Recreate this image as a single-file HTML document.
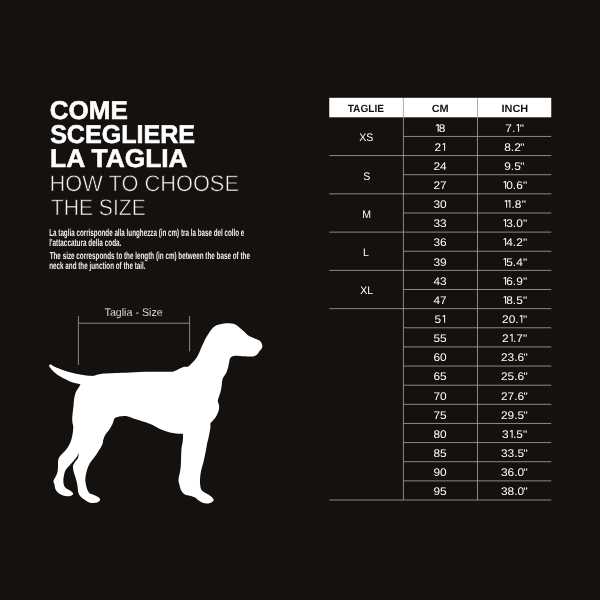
<!DOCTYPE html>
<html><head><meta charset="utf-8"><title>Come scegliere la taglia</title>
<style>
html,body{margin:0;padding:0;}
body{width:600px;height:600px;background:#14110f;overflow:hidden;position:relative;font-family:"Liberation Sans",sans-serif;color:#fff;text-rendering:geometricPrecision;}
.t{position:absolute;white-space:nowrap;line-height:1;transform-origin:0 0;}
.b{font-weight:bold;-webkit-text-stroke:2.4px #fff;}
.l{-webkit-text-stroke:2.5px #14110f;color:#f4f4f4;}
.p{color:#f2f2f2;font-weight:bold;}
.lb{color:#f0f0f0;-webkit-text-stroke:0.5px #14110f;}
.c{position:absolute;text-align:center;white-space:nowrap;line-height:1;}
.c span{display:inline-block;}
.hb{font-weight:bold;}
.c i{font-style:normal;margin-left:-0.6px;}
.c svg.o+i{margin-left:0.3px;}
.c svg.o{position:static;display:inline-block;width:3.0px;height:7.7px;margin:0 0.4px 0 0.5px;fill:#fff;vertical-align:baseline;}
svg{position:absolute;left:0;top:0;}
</style></head><body><div style="position:absolute;left:0;top:0;width:600px;height:600px;will-change:transform">
<div class="t b" style="left:49px;top:97px;font-size:102.40px;transform:translate(0.76px,0.33px) scale(0.2540,0.2500);">COME</div>
<div class="t b" style="left:50px;top:121px;font-size:102.40px;transform:translate(0.13px,0.33px) scale(0.2449,0.2500);">SCEGLIERE</div>
<div class="t b" style="left:50px;top:145px;font-size:102.40px;transform:translate(0.05px,0.33px) scale(0.2572,0.2500);">LA TAGLIA</div>
<div class="t l" style="left:49px;top:171px;font-size:90.80px;transform:translate(0.57px,0.78px) scale(0.2401,0.2500);">HOW TO CHOOSE</div>
<div class="t l" style="left:50px;top:195px;font-size:90.80px;transform:translate(0.76px,0.78px) scale(0.2326,0.2500);">THE SIZE</div>
<div class="t p" style="left:49px;top:227px;font-size:40.80px;transform:translate(0.23px,0.37px) scale(0.1537,0.2500);">La taglia corrisponde alla lunghezza (in cm) tra la base del collo e</div>
<div class="t p" style="left:49px;top:237px;font-size:40.80px;transform:translate(0.16px,0.37px) scale(0.1567,0.2500);">l'attaccatura della coda.</div>
<div class="t p" style="left:49px;top:250px;font-size:40.80px;transform:translate(0.66px,0.37px) scale(0.1547,0.2500);">The size corresponds to the length (in cm) between the base of the</div>
<div class="t p" style="left:49px;top:260px;font-size:40.80px;transform:translate(0.19px,0.37px) scale(0.1545,0.2500);">neck and the junction of the tail.</div>
<div class="t lb" style="left:104px;top:306px;font-size:44.00px;transform:translate(0.54px,0.69px) scale(0.2425,0.2500);">Taglia - Size</div>
<svg width="600" height="600" viewBox="0 0 600 600"><path d="M49.0 365.0C49.0 365.0 50.2 364.2 51.0 364.5C51.8 364.8 52.5 365.8 54.0 366.5C55.5 367.2 57.8 368.2 60.0 369.0C62.2 369.8 64.5 370.8 67.0 371.5C69.5 372.2 72.3 372.9 75.0 373.5C77.7 374.1 80.7 374.6 83.0 375.0C85.3 375.4 87.2 375.7 89.0 375.8C90.8 375.9 92.7 376.0 94.0 375.8C95.3 375.6 95.8 375.1 97.0 374.8C98.2 374.5 99.7 374.2 101.0 374.0C102.3 373.8 102.7 373.8 105.0 373.6C107.3 373.4 110.8 373.2 115.0 373.0C119.2 372.8 124.2 372.6 130.0 372.4C135.8 372.2 143.3 371.9 150.0 371.8C156.7 371.7 166.0 371.9 170.0 371.8C174.0 371.7 172.5 371.7 174.0 371.2C175.5 370.7 177.3 369.7 179.0 369.0C180.7 368.3 182.6 367.2 184.0 366.8C185.4 366.4 186.5 367.1 187.5 366.8C188.5 366.5 188.9 366.0 190.0 365.0C191.1 364.0 192.8 362.3 194.0 361.0C195.2 359.7 196.1 358.5 197.0 357.0C197.9 355.5 198.8 353.7 199.5 352.0C200.2 350.3 200.8 348.7 201.5 347.0C202.2 345.3 203.4 343.2 204.0 342.0C204.6 340.8 204.3 340.8 205.0 339.5C205.7 338.2 207.0 336.1 208.0 334.5C209.0 332.9 209.9 331.3 211.0 330.0C212.1 328.7 213.2 327.4 214.5 326.5C215.8 325.6 217.4 325.0 219.0 324.5C220.6 324.0 222.3 323.7 224.0 323.5C225.7 323.3 227.4 323.2 229.0 323.3C230.6 323.4 232.2 323.4 233.5 323.8C234.8 324.2 235.9 324.8 237.0 325.5C238.1 326.2 238.9 327.1 240.0 328.0C241.1 328.9 242.4 330.0 243.5 331.0C244.6 332.0 245.6 333.2 246.5 334.0C247.4 334.8 248.0 335.4 249.0 336.0C250.0 336.6 251.3 337.0 252.5 337.5C253.7 338.0 254.8 338.5 256.0 339.0C257.2 339.5 258.6 339.9 259.5 340.5C260.4 341.1 260.8 341.8 261.2 342.5C261.6 343.2 262.0 344.2 262.2 345.0C262.4 345.8 262.4 346.8 262.2 347.5C262.0 348.2 261.4 348.9 261.0 349.5C260.6 350.1 260.0 350.3 259.5 351.0C259.0 351.7 258.6 352.8 258.0 353.5C257.4 354.2 256.8 354.8 256.0 355.3C255.2 355.8 254.2 356.3 253.0 356.5C251.8 356.7 250.3 356.5 249.0 356.5C247.7 356.5 246.5 356.4 245.0 356.3C243.5 356.2 241.7 356.1 240.0 356.0C238.3 355.9 236.3 355.7 235.0 355.8C233.7 355.9 232.8 356.1 232.0 356.5C231.2 356.9 230.5 357.6 230.0 358.5C229.5 359.4 229.5 360.6 229.2 362.0C228.9 363.4 228.6 365.5 228.2 367.0C227.8 368.5 227.4 369.8 227.0 371.0C226.6 372.2 226.2 372.8 225.5 374.0C224.8 375.2 223.6 376.7 223.0 378.0C222.4 379.3 222.2 380.5 222.0 382.0C221.8 383.5 221.8 385.3 221.5 387.0C221.2 388.7 220.9 390.4 220.5 392.0C220.1 393.6 219.4 395.0 219.0 396.5C218.6 398.0 217.8 399.6 217.8 401.0C217.8 402.4 218.8 403.7 219.0 405.0C219.2 406.3 219.2 407.7 219.0 409.0C218.8 410.3 218.4 411.6 217.8 413.0C217.2 414.4 216.4 416.2 215.5 417.5C214.6 418.8 213.3 420.0 212.5 421.0C211.7 422.0 210.8 422.5 210.5 423.5C210.2 424.5 210.6 425.9 210.5 427.0C210.4 428.1 210.3 428.2 210.0 430.0C209.7 431.8 209.0 435.7 208.5 438.0C208.0 440.3 207.4 442.0 207.0 444.0C206.6 446.0 206.4 448.0 206.0 450.0C205.6 452.0 205.2 454.0 204.8 456.0C204.4 458.0 204.0 460.0 203.5 462.0C203.0 464.0 202.3 466.0 201.8 468.0C201.3 470.0 200.8 472.0 200.5 474.0C200.2 476.0 200.1 478.2 200.0 480.0C199.9 481.8 200.0 483.5 200.2 485.0C200.4 486.5 200.5 487.9 201.0 489.0C201.5 490.1 202.1 490.8 203.0 491.5C203.9 492.2 205.2 492.8 206.5 493.5C207.8 494.2 209.4 495.2 210.5 496.0C211.6 496.8 212.5 497.8 213.0 498.5C213.5 499.2 213.8 499.8 213.5 500.5C213.2 501.2 212.6 502.0 211.5 502.5C210.4 503.0 208.6 503.5 207.0 503.5C205.4 503.5 203.5 503.1 202.0 502.5C200.5 501.9 199.2 500.8 198.0 500.0C196.8 499.2 196.2 498.2 195.0 497.5C193.8 496.8 192.5 496.4 191.0 496.0C189.5 495.6 187.4 495.6 186.0 495.0C184.6 494.4 183.4 493.5 182.5 492.5C181.6 491.5 181.0 490.2 180.5 489.0C180.0 487.8 179.8 486.3 179.5 485.0C179.2 483.7 178.6 482.3 178.5 481.0C178.4 479.7 178.6 478.5 178.8 477.0C179.1 475.5 179.7 473.8 180.0 472.0C180.3 470.2 180.6 468.0 180.8 466.0C181.0 464.0 180.9 462.0 181.0 460.0C181.1 458.0 181.1 456.0 181.2 454.0C181.3 452.0 181.3 449.8 181.5 448.0C181.7 446.2 182.2 444.7 182.5 443.0C182.8 441.3 182.9 439.5 183.0 438.0C183.1 436.5 183.0 433.8 183.0 433.8C183.0 433.8 178.2 433.7 176.0 433.5C173.8 433.3 171.8 432.9 170.0 432.5C168.2 432.1 166.7 431.6 165.0 431.0C163.3 430.4 161.7 429.8 160.0 429.0C158.3 428.2 156.8 427.1 155.0 426.2C153.2 425.3 151.2 424.3 149.0 423.5C146.8 422.7 144.3 421.9 142.0 421.2C139.7 420.4 137.2 419.7 135.0 419.0C132.8 418.3 130.7 417.3 129.0 416.8C127.3 416.3 126.7 416.1 125.0 416.0C123.3 415.9 120.8 416.1 119.0 416.5C117.2 416.9 114.5 418.2 114.5 418.2C114.5 418.2 113.9 419.9 113.5 421.0C113.1 422.1 112.8 423.5 112.0 425.0C111.2 426.5 110.1 428.4 109.0 430.0C107.9 431.6 106.4 433.0 105.5 434.5C104.6 436.0 104.0 437.4 103.5 439.0C103.0 440.6 103.0 442.5 102.5 444.0C102.0 445.5 101.2 446.8 100.5 448.0C99.8 449.2 99.2 449.8 98.5 451.0C97.8 452.2 96.9 453.7 96.0 455.0C95.1 456.3 94.0 457.7 93.0 459.0C92.0 460.3 90.8 461.7 90.0 463.0C89.2 464.3 88.6 465.5 88.0 467.0C87.4 468.5 86.9 470.3 86.5 472.0C86.1 473.7 85.7 475.3 85.5 477.0C85.3 478.7 85.3 480.3 85.5 482.0C85.7 483.7 86.1 485.5 86.5 487.0C86.9 488.5 87.4 489.9 88.0 491.0C88.6 492.1 89.0 492.8 90.0 493.5C91.0 494.2 92.7 494.4 94.0 495.0C95.3 495.6 97.0 496.3 98.0 497.0C99.0 497.7 99.8 498.3 100.0 499.0C100.2 499.7 100.0 500.4 99.5 501.0C99.0 501.6 98.2 502.2 97.0 502.5C95.8 502.8 93.5 503.1 92.0 503.0C90.5 502.9 89.2 502.5 88.0 502.0C86.8 501.5 86.1 500.8 85.0 500.0C83.9 499.2 82.5 498.4 81.5 497.5C80.5 496.6 79.6 495.6 79.0 494.5C78.4 493.4 78.2 492.4 78.0 491.0C77.8 489.6 77.8 487.7 77.5 486.0C77.2 484.3 76.9 482.7 76.5 481.0C76.1 479.3 75.5 477.7 75.0 476.0C74.5 474.3 73.8 472.7 73.5 471.0C73.2 469.3 72.8 467.5 73.0 466.0C73.2 464.5 74.2 463.3 75.0 462.0C75.8 460.7 77.4 459.6 78.0 458.0C78.6 456.4 78.7 452.5 78.7 452.5C78.7 452.5 77.9 455.1 77.0 456.5C76.1 457.9 74.8 459.5 73.5 461.0C72.2 462.5 70.8 464.1 69.5 465.5C68.2 466.9 66.8 468.2 66.0 469.5C65.2 470.8 64.9 471.6 64.5 473.0C64.1 474.4 63.7 476.3 63.5 478.0C63.3 479.7 63.3 481.6 63.5 483.0C63.7 484.4 64.0 485.6 64.5 486.5C65.0 487.4 65.6 487.8 66.5 488.5C67.4 489.2 69.0 489.8 70.0 490.5C71.0 491.2 72.0 491.9 72.5 492.5C73.0 493.1 73.2 493.6 73.0 494.2C72.8 494.8 71.9 495.4 71.0 495.8C70.1 496.2 68.8 496.4 67.5 496.3C66.2 496.2 64.4 496.0 63.0 495.5C61.6 495.0 60.1 494.2 59.0 493.5C57.9 492.8 57.2 491.9 56.5 491.0C55.8 490.1 55.3 489.1 55.0 488.0C54.7 486.9 54.8 485.5 54.5 484.5C54.2 483.5 53.6 482.8 53.5 482.0C53.4 481.2 53.6 480.5 54.0 479.5C54.4 478.5 55.4 477.2 56.0 476.0C56.6 474.8 57.2 473.5 57.5 472.0C57.8 470.5 57.9 468.7 58.0 467.0C58.1 465.3 57.9 463.5 58.0 462.0C58.1 460.5 58.3 459.2 58.8 458.0C59.3 456.8 60.0 456.1 61.0 455.0C62.0 453.9 63.3 452.8 64.5 451.5C65.7 450.2 67.0 448.6 68.0 447.0C69.0 445.4 69.8 443.7 70.5 442.0C71.2 440.3 71.6 438.8 72.0 437.0C72.4 435.2 72.8 432.8 73.0 431.0C73.2 429.2 73.3 427.3 73.2 426.0C73.1 424.7 72.7 424.3 72.5 423.0C72.3 421.7 72.2 419.8 72.2 418.0C72.2 416.2 72.6 414.0 72.8 412.0C73.0 410.0 73.3 408.0 73.5 406.0C73.7 404.0 73.8 401.5 74.0 400.0C74.2 398.5 74.2 398.2 74.5 397.0C74.8 395.8 75.1 394.2 75.5 393.0C75.9 391.8 76.4 391.0 77.0 390.0C77.6 389.0 78.4 388.0 79.0 387.0C79.6 386.0 80.5 384.2 80.5 384.2C80.5 384.2 78.4 383.8 77.0 383.5C75.6 383.2 73.7 382.8 72.0 382.2C70.3 381.6 68.7 380.8 67.0 380.0C65.3 379.2 63.7 378.4 62.0 377.5C60.3 376.6 58.5 375.6 57.0 374.5C55.5 373.4 54.2 372.2 53.0 371.0C51.8 369.8 50.7 368.5 50.0 367.5C49.3 366.5 49.0 365.0 49.0 365.0Z" fill="#fff"/><path d="M78.4 316V365M189.6 316V351.4M78.4 323.2H189.6" stroke="#a09e9c" stroke-width="0.85" fill="none"/></svg>
<svg width="600" height="600" viewBox="0 0 600 600"><rect x="329.25" y="97.8" width="222.00" height="19.50" fill="#fff"/><path d="M403.40 98V500.00M477.50 98V500.00M403.40 136.44H551.25M329.25 155.57H551.25M403.40 174.70H551.25M329.25 193.84H551.25M403.40 212.97H551.25M329.25 232.11H551.25M403.40 251.25H551.25M329.25 270.38H551.25M403.40 289.51H551.25M329.25 308.65H551.25M403.40 327.78H551.25M403.40 346.92H551.25M403.40 366.05H551.25M403.40 385.19H551.25M403.40 404.32H551.25M403.40 423.46H551.25M403.40 442.59H551.25M403.40 461.73H551.25M403.40 480.86H551.25M329.25 500.00H551.25" stroke="#a09e9c" stroke-width="0.85" fill="none"/></svg>
<div class="c hb" style="left:329.25px;width:74.15px;top:104px;font-size:10.50px;color:#14110f"><span style="transform:scaleX(0.966)">TAGLIE</span></div>
<div class="c hb" style="left:403.40px;width:74.10px;top:104px;font-size:10.50px;color:#14110f"><span style="transform:scaleX(1.040)">CM</span></div>
<div class="c hb" style="left:477.50px;width:73.75px;top:104px;font-size:10.50px;color:#14110f"><span style="transform:scaleX(1.040)">INCH</span></div>
<div class="c" style="left:403.40px;width:74.10px;top:124px;font-size:11.00px;color:#fff"><span style="transform:scaleX(1.080)"><svg class="o" viewBox="0 0 28 77"><path d="M28 0V77H17V12L4 20L0 11L19 0Z"/></svg>8</span></div>
<div class="c" style="left:477.50px;width:73.75px;top:124px;font-size:11.00px;color:#fff"><span style="transform:scaleX(1.080)">7.<svg class="o" viewBox="0 0 28 77"><path d="M28 0V77H17V12L4 20L0 11L19 0Z"/></svg><i>&quot;</i></span></div>
<div class="c" style="left:403.40px;width:74.10px;top:143px;font-size:11.00px;color:#fff"><span style="transform:scaleX(1.080)">2<svg class="o" viewBox="0 0 28 77"><path d="M28 0V77H17V12L4 20L0 11L19 0Z"/></svg></span></div>
<div class="c" style="left:477.50px;width:73.75px;top:143px;font-size:11.00px;color:#fff"><span style="transform:scaleX(1.080)">8.2<i>&quot;</i></span></div>
<div class="c" style="left:403.40px;width:74.10px;top:162px;font-size:11.00px;color:#fff"><span style="transform:scaleX(1.080)">24</span></div>
<div class="c" style="left:477.50px;width:73.75px;top:162px;font-size:11.00px;color:#fff"><span style="transform:scaleX(1.080)">9.5<i>&quot;</i></span></div>
<div class="c" style="left:403.40px;width:74.10px;top:181px;font-size:11.00px;color:#fff"><span style="transform:scaleX(1.080)">27</span></div>
<div class="c" style="left:477.50px;width:73.75px;top:181px;font-size:11.00px;color:#fff"><span style="transform:scaleX(1.080)"><svg class="o" viewBox="0 0 28 77"><path d="M28 0V77H17V12L4 20L0 11L19 0Z"/></svg>0.6<i>&quot;</i></span></div>
<div class="c" style="left:403.40px;width:74.10px;top:200px;font-size:11.00px;color:#fff"><span style="transform:scaleX(1.080)">30</span></div>
<div class="c" style="left:477.50px;width:73.75px;top:200px;font-size:11.00px;color:#fff"><span style="transform:scaleX(1.080)"><svg class="o" viewBox="0 0 28 77"><path d="M28 0V77H17V12L4 20L0 11L19 0Z"/></svg><svg class="o" viewBox="0 0 28 77"><path d="M28 0V77H17V12L4 20L0 11L19 0Z"/></svg>.8<i>&quot;</i></span></div>
<div class="c" style="left:403.40px;width:74.10px;top:219px;font-size:11.00px;color:#fff"><span style="transform:scaleX(1.080)">33</span></div>
<div class="c" style="left:477.50px;width:73.75px;top:219px;font-size:11.00px;color:#fff"><span style="transform:scaleX(1.080)"><svg class="o" viewBox="0 0 28 77"><path d="M28 0V77H17V12L4 20L0 11L19 0Z"/></svg>3.0<i>&quot;</i></span></div>
<div class="c" style="left:403.40px;width:74.10px;top:238px;font-size:11.00px;color:#fff"><span style="transform:scaleX(1.080)">36</span></div>
<div class="c" style="left:477.50px;width:73.75px;top:238px;font-size:11.00px;color:#fff"><span style="transform:scaleX(1.080)"><svg class="o" viewBox="0 0 28 77"><path d="M28 0V77H17V12L4 20L0 11L19 0Z"/></svg>4.2<i>&quot;</i></span></div>
<div class="c" style="left:403.40px;width:74.10px;top:258px;font-size:11.00px;color:#fff"><span style="transform:scaleX(1.080)">39</span></div>
<div class="c" style="left:477.50px;width:73.75px;top:258px;font-size:11.00px;color:#fff"><span style="transform:scaleX(1.080)"><svg class="o" viewBox="0 0 28 77"><path d="M28 0V77H17V12L4 20L0 11L19 0Z"/></svg>5.4<i>&quot;</i></span></div>
<div class="c" style="left:403.40px;width:74.10px;top:277px;font-size:11.00px;color:#fff"><span style="transform:scaleX(1.080)">43</span></div>
<div class="c" style="left:477.50px;width:73.75px;top:277px;font-size:11.00px;color:#fff"><span style="transform:scaleX(1.080)"><svg class="o" viewBox="0 0 28 77"><path d="M28 0V77H17V12L4 20L0 11L19 0Z"/></svg>6.9<i>&quot;</i></span></div>
<div class="c" style="left:403.40px;width:74.10px;top:296px;font-size:11.00px;color:#fff"><span style="transform:scaleX(1.080)">47</span></div>
<div class="c" style="left:477.50px;width:73.75px;top:296px;font-size:11.00px;color:#fff"><span style="transform:scaleX(1.080)"><svg class="o" viewBox="0 0 28 77"><path d="M28 0V77H17V12L4 20L0 11L19 0Z"/></svg>8.5<i>&quot;</i></span></div>
<div class="c" style="left:403.40px;width:74.10px;top:315px;font-size:11.00px;color:#fff"><span style="transform:scaleX(1.080)">5<svg class="o" viewBox="0 0 28 77"><path d="M28 0V77H17V12L4 20L0 11L19 0Z"/></svg></span></div>
<div class="c" style="left:477.50px;width:73.75px;top:315px;font-size:11.00px;color:#fff"><span style="transform:scaleX(1.080)">20.<svg class="o" viewBox="0 0 28 77"><path d="M28 0V77H17V12L4 20L0 11L19 0Z"/></svg><i>&quot;</i></span></div>
<div class="c" style="left:403.40px;width:74.10px;top:334px;font-size:11.00px;color:#fff"><span style="transform:scaleX(1.080)">55</span></div>
<div class="c" style="left:477.50px;width:73.75px;top:334px;font-size:11.00px;color:#fff"><span style="transform:scaleX(1.080)">2<svg class="o" viewBox="0 0 28 77"><path d="M28 0V77H17V12L4 20L0 11L19 0Z"/></svg>.7<i>&quot;</i></span></div>
<div class="c" style="left:403.40px;width:74.10px;top:353px;font-size:11.00px;color:#fff"><span style="transform:scaleX(1.080)">60</span></div>
<div class="c" style="left:477.50px;width:73.75px;top:353px;font-size:11.00px;color:#fff"><span style="transform:scaleX(1.080)">23.6<i>&quot;</i></span></div>
<div class="c" style="left:403.40px;width:74.10px;top:372px;font-size:11.00px;color:#fff"><span style="transform:scaleX(1.080)">65</span></div>
<div class="c" style="left:477.50px;width:73.75px;top:372px;font-size:11.00px;color:#fff"><span style="transform:scaleX(1.080)">25.6<i>&quot;</i></span></div>
<div class="c" style="left:403.40px;width:74.10px;top:392px;font-size:11.00px;color:#fff"><span style="transform:scaleX(1.080)">70</span></div>
<div class="c" style="left:477.50px;width:73.75px;top:392px;font-size:11.00px;color:#fff"><span style="transform:scaleX(1.080)">27.6<i>&quot;</i></span></div>
<div class="c" style="left:403.40px;width:74.10px;top:411px;font-size:11.00px;color:#fff"><span style="transform:scaleX(1.080)">75</span></div>
<div class="c" style="left:477.50px;width:73.75px;top:411px;font-size:11.00px;color:#fff"><span style="transform:scaleX(1.080)">29.5<i>&quot;</i></span></div>
<div class="c" style="left:403.40px;width:74.10px;top:430px;font-size:11.00px;color:#fff"><span style="transform:scaleX(1.080)">80</span></div>
<div class="c" style="left:477.50px;width:73.75px;top:430px;font-size:11.00px;color:#fff"><span style="transform:scaleX(1.080)">3<svg class="o" viewBox="0 0 28 77"><path d="M28 0V77H17V12L4 20L0 11L19 0Z"/></svg>.5<i>&quot;</i></span></div>
<div class="c" style="left:403.40px;width:74.10px;top:449px;font-size:11.00px;color:#fff"><span style="transform:scaleX(1.080)">85</span></div>
<div class="c" style="left:477.50px;width:73.75px;top:449px;font-size:11.00px;color:#fff"><span style="transform:scaleX(1.080)">33.5<i>&quot;</i></span></div>
<div class="c" style="left:403.40px;width:74.10px;top:468px;font-size:11.00px;color:#fff"><span style="transform:scaleX(1.080)">90</span></div>
<div class="c" style="left:477.50px;width:73.75px;top:468px;font-size:11.00px;color:#fff"><span style="transform:scaleX(1.080)">36.0<i>&quot;</i></span></div>
<div class="c" style="left:403.40px;width:74.10px;top:487px;font-size:11.00px;color:#fff"><span style="transform:scaleX(1.080)">95</span></div>
<div class="c" style="left:477.50px;width:73.75px;top:487px;font-size:11.00px;color:#fff"><span style="transform:scaleX(1.080)">38.0<i>&quot;</i></span></div>
<div class="c" style="left:329.25px;width:74.15px;top:133px;font-size:11.00px;color:#fff"><span style="transform:scaleX(0.960)">XS</span></div>
<div class="c" style="left:329.25px;width:74.15px;top:172px;font-size:11.00px;color:#fff"><span style="transform:scaleX(0.960)">S</span></div>
<div class="c" style="left:329.25px;width:74.15px;top:210px;font-size:11.00px;color:#fff"><span style="transform:scaleX(0.960)">M</span></div>
<div class="c" style="left:329.25px;width:74.15px;top:248px;font-size:11.00px;color:#fff"><span style="transform:scaleX(0.960)">L</span></div>
<div class="c" style="left:329.25px;width:74.15px;top:286px;font-size:11.00px;color:#fff"><span style="transform:scaleX(0.960)">XL</span></div>
</div></body></html>
